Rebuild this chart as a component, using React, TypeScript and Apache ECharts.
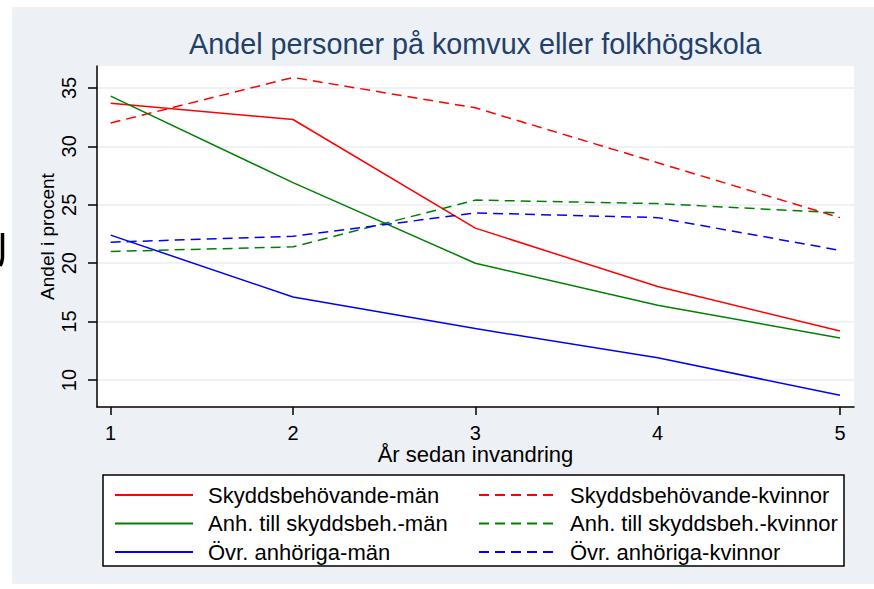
import React, { useEffect, useRef } from "react";
import * as echarts from "echarts";

const years = [1, 2, 3, 4, 5];
const xTicks = [1, 2, 3, 4, 5];
const yTicks = [10, 15, 20, 25, 30, 35];

const skyddMan = [33.7, 32.3, 23.0, 18.0, 14.2];
const skyddKv = [32.0, 35.9, 33.3, 28.6, 23.9];
const anhMan = [34.3, 26.9, 20.0, 16.4, 13.6];
const anhKv = [21.0, 21.4, 25.4, 25.1, 24.3];
const ovrMan = [22.4, 17.1, 14.4, 11.9, 8.7];
const ovrKv = [21.8, 22.3, 24.3, 23.9, 21.1];

const names = [
  "Skyddsbehövande-män",
  "Skyddsbehövande-kvinnor",
  "Anh. till skyddsbeh.-män",
  "Anh. till skyddsbeh.-kvinnor",
  "Övr. anhöriga-män",
  "Övr. anhöriga-kvinnor",
];

const FONT = "'Liberation Sans', Arial, sans-serif";

export default function App() {
  const ref = useRef<HTMLDivElement>(null);
  useEffect(() => {
    document.body.style.margin = "0";
    const chart = echarts.init(ref.current!, null, { renderer: "svg" });
    const pairs = (vals: number[]) => years.map((x, i) => [x, vals[i]]);
    const mk = (name: string, vals: number[], color: string, dashed: boolean) => ({
      name,
      type: "line",
      data: pairs(vals),
      symbol: "none",
      lineStyle: { color, width: 1.5, type: dashed ? [10, 6] : "solid" },
      itemStyle: { color },
    });
    const legendBase = {
      orient: "vertical",
      top: 484,
      padding: 0,
      itemWidth: 78,
      itemHeight: 14,
      itemGap: 6.5,
      z: 5,
      itemStyle: { opacity: 0 },
    };
    chart.setOption({
      animation: false,
      backgroundColor: "#ffffff",
      textStyle: { fontFamily: FONT },
      title: {
        text: "Andel personer på komvux eller folkhögskola",
        left: 189,
        top: 29,
        padding: 0,
        textStyle: { fontSize: 28.75, fontWeight: "normal", color: "#22406a", fontFamily: FONT },
      },
      graphic: [
        {
          type: "rect",
          z: -10,
          silent: true,
          shape: { x: 12, y: 7, width: 862, height: 577 },
          style: { fill: "#edf0f5" },
        },
        {
          type: "rect",
          z: 1,
          silent: true,
          shape: { x: 103, y: 475, width: 741, height: 91 },
          style: { fill: "#ffffff", stroke: "#000000", lineWidth: 1.5 },
        },
        {
          type: "polyline",
          silent: true,
          shape: { points: [[2.5, 233], [2.5, 258], [1.5, 263], [0, 266]] },
          style: { stroke: "#000000", lineWidth: 3.5, fill: null },
        },
      ],
      grid: {
        left: 97,
        top: 66,
        right: 20,
        bottom: 182,
        show: true,
        backgroundColor: "#ffffff",
        borderWidth: 0,
      },
      xAxis: {
        type: "value",
        min: 0.925,
        max: 5.077,
        name: "År sedan invandring",
        nameLocation: "middle",
        nameGap: 38,
        nameMoveOverlap: false,
        nameTextStyle: { fontSize: 22, lineHeight: 18, color: "#000", fontFamily: FONT },
        axisLine: { show: true, lineStyle: { color: "#000", width: 1.5 } },
        axisTick: { show: true, length: 8, customValues: xTicks, lineStyle: { color: "#000", width: 1.5 } },
        axisLabel: { customValues: xTicks, fontSize: 20, lineHeight: 15, color: "#000", margin: 18, fontFamily: FONT },
        splitLine: { show: false },
      },
      yAxis: {
        type: "value",
        min: 7.69,
        max: 36.88,
        name: "Andel i procent",
        nameLocation: "middle",
        nameGap: 40,
        nameMoveOverlap: false,
        nameTextStyle: { fontSize: 19, color: "#000", fontFamily: FONT },
        axisLine: { show: true, lineStyle: { color: "#000", width: 1.5 } },
        axisTick: { show: true, length: 9, customValues: yTicks, lineStyle: { color: "#000", width: 1.5 } },
        axisLabel: { customValues: yTicks, rotate: 90, fontSize: 20, color: "#000", margin: 18, fontFamily: FONT },
        splitLine: { show: true, lineStyle: { color: "#e9eef4", width: 1.5 } },
      },
      legend: [
        {
          ...legendBase,
          left: 114,
          data: [names[0], names[2], names[4]],
          textStyle: { fontSize: 22, color: "#000", lineHeight: 22, padding: [0, 0, 0, 10], fontFamily: FONT },
        },
        {
          ...legendBase,
          left: 478,
          data: [names[1], names[3], names[5]],
          textStyle: { fontSize: 22, color: "#000", lineHeight: 22, padding: [0, 0, 0, 8], fontFamily: FONT },
        },
      ],
      series: [
        mk(names[0], skyddMan, "#ff0000", false),
        mk(names[1], skyddKv, "#ff0000", true),
        mk(names[2], anhMan, "#008000", false),
        mk(names[3], anhKv, "#008000", true),
        mk(names[4], ovrMan, "#0000ff", false),
        mk(names[5], ovrKv, "#0000ff", true),
      ],
    });
    return () => chart.dispose();
  }, []);
  return <div ref={ref} style={{ width: 874, height: 589 }} />;
}
